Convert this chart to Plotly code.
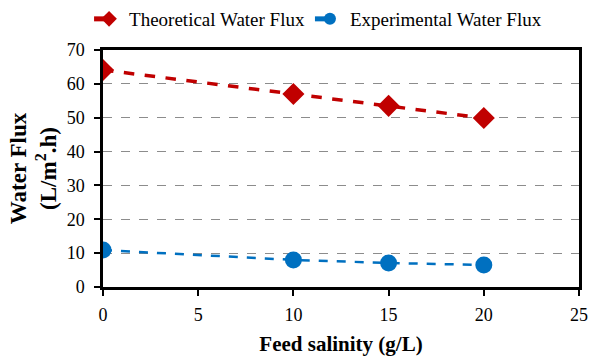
import plotly.graph_objects as go

salinity = [0, 10, 15, 20]
theoretical = [64.1, 57.0, 53.5, 49.9]
experimental = [10.9, 8.0, 7.1, 6.5]
x_ticks = [0, 5, 10, 15, 20, 25]
y_ticks = [0, 10, 20, 30, 40, 50, 60, 70]

font_family = "Liberation Serif, Times New Roman, serif"

fig = go.Figure()
fig.add_trace(go.Scatter(
    x=salinity, y=theoretical, name="Theoretical Water Flux",
    mode="lines+markers",
    line=dict(color="#C00000", width=3.5, dash="dash"),
    marker=dict(symbol="diamond", size=17, color="#C00000"),
))
fig.add_trace(go.Scatter(
    x=salinity, y=experimental, name="Experimental Water Flux",
    mode="lines+markers",
    line=dict(color="#0070C0", width=2.5, dash="dash"),
    marker=dict(symbol="circle", size=17, color="#0070C0"),
))

fig.update_layout(
    width=589, height=356,
    margin=dict(l=103, r=10, t=50, b=69, autoexpand=False),
    paper_bgcolor="white", plot_bgcolor="white",
    font=dict(family=font_family, size=18, color="black"),
    showlegend=True,
    legend=dict(orientation="h", x=0.54, xanchor="center", xref="container",
                y=1.0, yanchor="top", yref="container",
                font=dict(size=19), itemsizing="constant",
                bgcolor="rgba(0,0,0,0)"),
    xaxis=dict(range=[0, 25], tickvals=x_ticks, showgrid=False,
               showline=True, linecolor="black", linewidth=2.5, mirror=True,
               ticks="outside", ticklen=6, tickcolor="black", tickwidth=1.5,
               ticklabelstandoff=4,
               zeroline=False, tickfont=dict(size=18),
               title=dict(text="<b>Feed salinity (g/L)</b>", font=dict(size=21), standoff=16)),
    yaxis=dict(range=[0, 70], tickvals=y_ticks, showgrid=True,
               gridcolor="#8c8c8c", griddash="dash", gridwidth=1,
               showline=True, linecolor="black", linewidth=2.5, mirror=True,
               ticks="outside", ticklen=6, tickcolor="black", tickwidth=1.5,
               ticklabelstandoff=6,
               zeroline=False, tickfont=dict(size=18),
               title=dict(text="<b>Water Flux<br>(L/m<sup>2</sup>.h)</b>", font=dict(size=23), standoff=4)),
)

fig.write_html("out.html")
